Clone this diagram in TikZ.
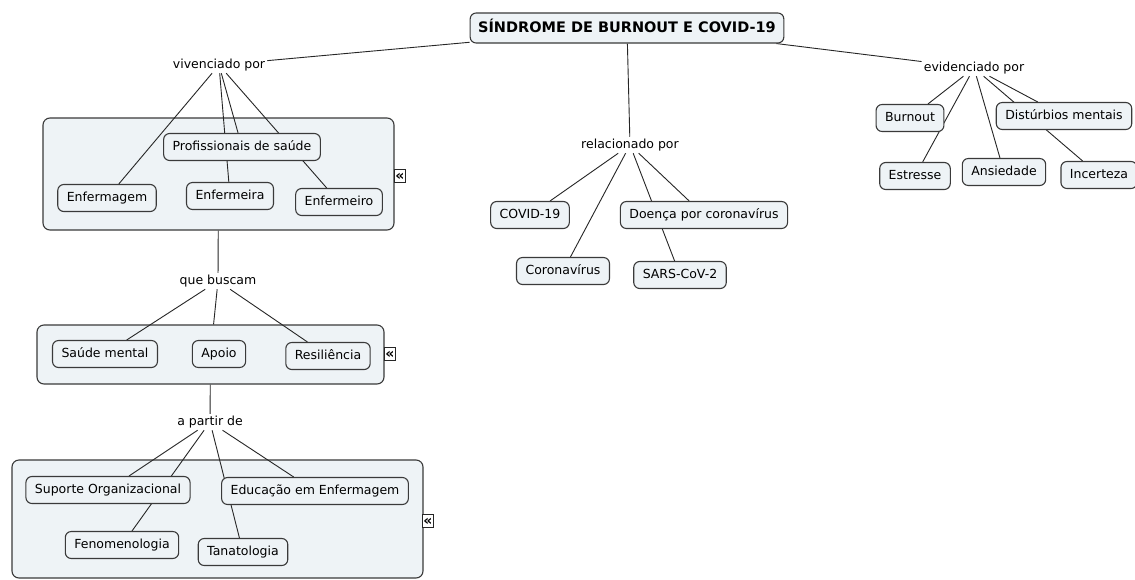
\documentclass[tikz,border=0pt]{standalone}
\usepackage{fontspec}
\setmainfont{DejaVu Sans}
\pgfdeclarelayer{back}
\pgfdeclarelayer{edges}
\pgfsetlayers{back,edges,main}
\definecolor{nodefill}{HTML}{EEF3F6}
\definecolor{nodedraw}{HTML}{3A3A3A}
\tikzset{
  concept/.style={draw=nodedraw, fill=nodefill, rounded corners=6pt, line width=1.1pt,
    font=\fontsize{12.5}{14}\selectfont, inner xsep=9pt, inner ysep=0pt, minimum height=27pt,
    text height=9.5pt, text depth=2.6pt},
  linkl/.style={font=\fontsize{12.5}{14}\selectfont, inner sep=2pt, text height=9.5pt, text depth=2.6pt},
  grp/.style={draw=nodedraw, fill=nodefill, rounded corners=7pt, line width=1.1pt, inner sep=0pt},
  conn/.style={draw=black!85, line width=0.9pt},
  icon/.style={draw=black!85, line width=0.7pt, fill=white, font=\bfseries\fontsize{14}{14}\selectfont,
    inner sep=0pt, minimum width=11pt, minimum height=13pt, text height=8pt, text depth=0pt},
}
\begin{document}
\begin{tikzpicture}[x=1pt, y=-1pt]
\useasboundingbox (0,0) rectangle (1135,579);
% group boxes
\begin{pgfonlayer}{back}
\fill[white] (0,0) rectangle (1135,579);
\node[grp, minimum width=351pt, minimum height=112pt] (g1) at (218.5,174) {};
\node[grp, minimum width=347pt, minimum height=59pt] (g2) at (210.5,354.5) {};
\node[grp, minimum width=411pt, minimum height=118pt] (g3) at (217.5,519) {};
\end{pgfonlayer}
% title
\node[concept, font=\bfseries\fontsize{14.5}{16}\selectfont, minimum height=30pt, inner xsep=8pt, text height=11pt, text depth=3pt] (title) at (627,28) {SÍNDROME DE BURNOUT E COVID-19};
\coordinate (tse) at ([xshift=-8pt]title.south east);
% link labels
\node[linkl] (viv) at (219,65) {vivenciado por};
\node[linkl] (rel) at (630,145) {relacionado por};
\node[linkl] (evi) at (974,68) {evidenciado por};
\node[linkl] (que) at (218,281) {que buscam};
\node[linkl] (apa) at (210,422) {a partir de};
% group 1
\node[concept] (prof) at (242,147) {Profissionais de saúde};
\node[concept] (enfg) at (107,198) {Enfermagem};
\node[concept] (enfa) at (230,196) {Enfermeira};
\node[concept] (enfo) at (339,202) {Enfermeiro};
% group 2
\node[concept] (saude) at (105,354) {Saúde mental};
\node[concept] (apoio) at (219,354) {Apoio};
\node[concept] (resil) at (328,356) {Resiliência};
% group 3
\node[concept] (sup) at (108,490) {Suporte Organizacional};
\node[concept] (edu) at (315,491) {Educação em Enfermagem};
\node[concept] (fen) at (122,545) {Fenomenologia};
\node[concept] (tan) at (243,552) {Tanatologia};
% relacionado
\node[concept] (covid) at (530,215) {COVID-19};
\node[concept] (corona) at (563,271) {Coronavírus};
\node[concept] (doenca) at (704,215) {Doença por coronavírus};
\node[concept] (sars) at (680,275) {SARS-CoV-2};
% evidenciado
\node[concept] (burn) at (910,118) {Burnout};
\node[concept] (dist) at (1064,116) {Distúrbios mentais};
\node[concept] (estr) at (915,176) {Estresse};
\node[concept] (ansi) at (1004,172) {Ansiedade};
\node[concept] (ince) at (1099,175) {Incerteza};
% collapse icons
\node[icon] (i1) at (400,176) {«};
\node[icon] (i2) at (390,354) {«};
\node[icon] (i3) at (428,521) {«};
% connectors
\begin{pgfonlayer}{edges}
\draw[conn] (title) -- (viv);
\draw[conn] (title) -- (rel);
\draw[conn] (tse) -- (evi);
\draw[conn] (viv) -- (enfg);
\draw[conn] (viv) -- (prof);
\draw[conn] (viv) -- (enfa);
\draw[conn] (viv) -- (enfo);
\draw[conn] (g1) -- (que);
\draw[conn] (que) -- (saude);
\draw[conn] (que) -- (g2);
\draw[conn] (que) -- (resil);
\draw[conn] (g2) -- (apa);
\draw[conn] (apa) -- (sup);
\draw[conn] (apa) -- (fen);
\draw[conn] (apa) -- (tan);
\draw[conn] (apa) -- (edu);
\draw[conn] (rel) -- (covid);
\draw[conn] (rel) -- (corona);
\draw[conn] (rel) -- (doenca);
\draw[conn] (rel) -- (sars);
\draw[conn] (evi) -- (burn);
\draw[conn] (evi) -- (estr);
\draw[conn] (evi) -- (ansi);
\draw[conn] (evi) -- (dist);
\draw[conn] (evi) -- (ince);
\end{pgfonlayer}
\end{tikzpicture}
\end{document}
